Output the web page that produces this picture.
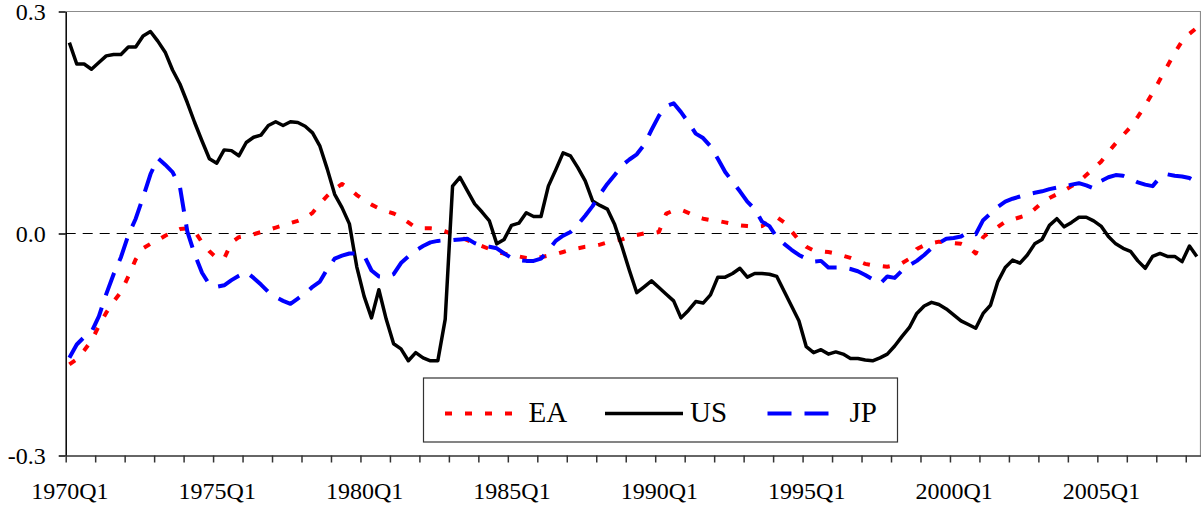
<!DOCTYPE html>
<html>
<head>
<meta charset="utf-8">
<script src="https://cdn.jsdelivr.net/npm/d3@7"></script>
<style>
  body { margin: 0; background: #fff; }
  svg { display: block; }
</style>
</head>
<body>
<div id="chart"></div>
<script>
// quarterly categories 1970Q1 .. 2008Q2
const quarters = [];
for (let y = 1970; y <= 2008; y++) {
  for (let q = 1; q <= 4; q++) {
    if (y === 2008 && q > 2) break;
    quarters.push(y + "Q" + q);
  }
}
const tickLabels = ["1970Q1", "1975Q1", "1980Q1", "1985Q1", "1990Q1", "1995Q1", "2000Q1", "2005Q1"];
const yTicks = [-0.3, 0.0, 0.3];

const seriesNames = ["EA", "US", "JP"];

const ea = [
  -0.177, -0.170, -0.158, -0.145, -0.125, -0.107, -0.092, -0.079, -0.058, -0.035,
  -0.020, -0.014, -0.009, -0.003, 0.002, 0.006, 0.007, 0.003, -0.012, -0.024,
  -0.033, -0.034, -0.012, -0.005, -0.003, -0.001, 0.002, 0.005, 0.008, 0.011,
  0.014, 0.017, 0.021, 0.028, 0.040, 0.051, 0.060, 0.067, 0.061, 0.052,
  0.045, 0.039, 0.034, 0.030, 0.027, 0.022, 0.015, 0.008, 0.007, 0.007,
  0.006, 0.003, -0.001, -0.005, -0.009, -0.013, -0.017, -0.021, -0.025, -0.027,
  -0.030, -0.031, -0.033, -0.034, -0.032, -0.030, -0.028, -0.025, -0.022, -0.020,
  -0.018, -0.017, -0.015, -0.012, -0.010, -0.008, -0.005, -0.002, 0.000, 0.000,
  0.002, 0.027, 0.031, 0.032, 0.028, 0.023, 0.020, 0.018, 0.017, 0.015,
  0.013, 0.011, 0.010, 0.009, 0.010, 0.016, 0.022, 0.015, 0.003, -0.009,
  -0.018, -0.023, -0.024, -0.025, -0.027, -0.030, -0.033, -0.037, -0.041, -0.043,
  -0.044, -0.045, -0.043, -0.040, -0.034, -0.021, -0.016, -0.013, -0.011, -0.012,
  -0.013, -0.014, -0.018, -0.027, -0.005, 0.003, 0.009, 0.016, 0.019, 0.022,
  0.025, 0.033, 0.042, 0.048, 0.053, 0.058, 0.064, 0.070, 0.079, 0.088,
  0.097, 0.110, 0.122, 0.133, 0.144, 0.158, 0.173, 0.190, 0.208, 0.226,
  0.244, 0.260, 0.270, 0.278
];

const us = [
  0.258, 0.229, 0.229, 0.222, 0.231, 0.240, 0.242, 0.242, 0.252, 0.252,
  0.267, 0.273, 0.260, 0.245, 0.221, 0.202, 0.177, 0.150, 0.125, 0.101,
  0.095, 0.113, 0.112, 0.105, 0.123, 0.130, 0.133, 0.146, 0.151, 0.146,
  0.151, 0.150, 0.145, 0.136, 0.118, 0.087, 0.053, 0.035, 0.013, -0.045,
  -0.085, -0.114, -0.076, -0.116, -0.149, -0.156, -0.172, -0.161, -0.168, -0.172,
  -0.172, -0.116, 0.064, 0.076, 0.058, 0.040, 0.029, 0.017, -0.014, -0.008,
  0.011, 0.014, 0.028, 0.023, 0.023, 0.064, 0.086, 0.109, 0.105, 0.089,
  0.071, 0.044, 0.038, 0.033, 0.012, -0.018, -0.050, -0.080, -0.072, -0.064,
  -0.073, -0.082, -0.091, -0.114, -0.104, -0.092, -0.094, -0.083, -0.059, -0.059,
  -0.054, -0.047, -0.059, -0.054, -0.054, -0.055, -0.058, -0.078, -0.098, -0.118,
  -0.153, -0.161, -0.157, -0.163, -0.160, -0.163, -0.169, -0.169, -0.171, -0.172,
  -0.168, -0.163, -0.152, -0.139, -0.127, -0.108, -0.098, -0.093, -0.096, -0.102,
  -0.110, -0.118, -0.123, -0.128, -0.108, -0.097, -0.065, -0.046, -0.036, -0.040,
  -0.029, -0.014, -0.008, 0.011, 0.020, 0.009, 0.015, 0.022, 0.022, 0.017,
  0.010, -0.004, -0.014, -0.020, -0.024, -0.037, -0.047, -0.031, -0.027, -0.031,
  -0.031, -0.038, -0.017, -0.031
];

const jp = [
  -0.168, -0.150, -0.140, -0.133, -0.112, -0.082, -0.055, -0.032, -0.002, 0.020,
  0.049, 0.080, 0.102, 0.093, 0.083, 0.063, 0.003, -0.028, -0.053, -0.069,
  -0.072, -0.070, -0.063, -0.057, -0.052, -0.060, -0.069, -0.079, -0.086, -0.091,
  -0.095, -0.088, -0.081, -0.072, -0.065, -0.048, -0.034, -0.030, -0.027, -0.027,
  -0.030, -0.050, -0.058, -0.059, -0.055, -0.040, -0.031, -0.023, -0.017, -0.012,
  -0.010, -0.009, -0.009, -0.008, -0.007, -0.013, -0.017, -0.018, -0.020, -0.027,
  -0.033, -0.036, -0.037, -0.037, -0.034, -0.023, -0.010, -0.003, 0.002, 0.012,
  0.024, 0.037, 0.053, 0.067, 0.079, 0.092, 0.100, 0.107, 0.120, 0.140,
  0.159, 0.172, 0.176, 0.164, 0.150, 0.135, 0.129, 0.118, 0.101, 0.083,
  0.070, 0.057, 0.043, 0.033, 0.016, 0.010, -0.005, -0.014, -0.022, -0.029,
  -0.034, -0.038, -0.037, -0.046, -0.046, -0.046, -0.048, -0.051, -0.056, -0.062,
  -0.068, -0.058, -0.060, -0.050, -0.043, -0.037, -0.029, -0.020, -0.013, -0.007,
  -0.006, -0.004, 0.002, -0.001, 0.018, 0.027, 0.036, 0.043, 0.047, 0.050,
  0.053, 0.055, 0.057, 0.060, 0.062, 0.063, 0.066, 0.068, 0.065, 0.061,
  0.071, 0.076, 0.079, 0.078, 0.074, 0.069, 0.066, 0.064, 0.076, 0.080,
  0.078, 0.077, 0.075, 0.069
];

const fontFamily = "'Liberation Serif', 'Times New Roman', Times, 'DejaVu Serif', serif";

const dimensions = {
  width: 1201,
  height: 506,
  left: 65.7,
  right: 1200.5,
  top: 11.5,
  bottom: 455.5,
};

const svg = d3
  .select("#chart")
  .append("svg")
  .attr("width", dimensions.width)
  .attr("height", dimensions.height);

// category index -> px (point sits in middle of its category)
const xScale = d3
  .scaleLinear()
  .domain([0, quarters.length])
  .range([dimensions.left, dimensions.right]);
const yScale = d3
  .scaleLinear()
  .domain([-0.3, 0.3])
  .range([dimensions.bottom, dimensions.top]);

// plot area border (top & right, grey)
svg
  .append("path")
  .attr(
    "d",
    `M${dimensions.left},${dimensions.top}H${dimensions.right}V${dimensions.bottom}`
  )
  .attr("fill", "none")
  .attr("stroke", "#8c8c8c")
  .attr("stroke-width", 1.2);

// zero line
svg
  .append("line")
  .attr("x1", dimensions.left)
  .attr("x2", dimensions.right)
  .attr("y1", yScale(0))
  .attr("y2", yScale(0))
  .attr("stroke", "#000")
  .attr("stroke-width", 1)
  .attr("stroke-dasharray", "10,7");

// series
const series = [
  { name: seriesNames[0], values: ea, color: "#ff0000", width: 4, dash: "7,13" },
  { name: seriesNames[1], values: us, color: "#000000", width: 3.5, dash: null },
  { name: seriesNames[2], values: jp, color: "#0000ff", width: 4, dash: "24,13" },
];

const line = d3
  .line()
  .x((d, i) => xScale(i + 0.5))
  .y((d) => yScale(d));

svg
  .append("g")
  .selectAll("path")
  .data(series)
  .join("path")
  .attr("d", (s) => line(s.values))
  .attr("fill", "none")
  .attr("stroke", (s) => s.color)
  .attr("stroke-width", (s) => s.width)
  .attr("stroke-dasharray", (s) => s.dash)
  .attr("stroke-linejoin", "round");

// y axis
const yAxis = d3
  .axisLeft(yScale)
  .tickValues(yTicks)
  .tickFormat((d) => d.toFixed(1))
  .tickSize(7)
  .tickSizeOuter(0)
  .tickPadding(13);
const yAxisGroup = svg
  .append("g")
  .attr("transform", `translate(${dimensions.left},0)`)
  .call(yAxis)
  .attr("font-family", fontFamily)
  .attr("font-size", 24);
yAxisGroup.selectAll("text").attr("fill", "#000").attr("dy", "0.34em");
yAxisGroup.selectAll("path, line").attr("stroke", "#000").attr("stroke-width", 1.5);

// x axis: tick marks on category boundaries every 4 quarters
const xTickAxis = d3
  .axisBottom(xScale)
  .tickValues(d3.range(0, quarters.length, 4))
  .tickFormat("")
  .tickSize(7)
  .tickSizeOuter(0);
const xAxisGroup = svg
  .append("g")
  .attr("transform", `translate(0,${dimensions.bottom})`)
  .call(xTickAxis);
xAxisGroup.selectAll("path, line").attr("stroke", "#333").attr("stroke-width", 1.5);

// x labels centred on their category
const xLabelAxis = d3
  .axisBottom(xScale)
  .tickValues(tickLabels.map((l) => quarters.indexOf(l) + 0.5))
  .tickFormat((d) => quarters[Math.floor(d)])
  .tickSize(0)
  .tickPadding(26);
const xLabelGroup = svg
  .append("g")
  .attr("transform", `translate(0,${dimensions.bottom})`)
  .call(xLabelAxis)
  .attr("font-family", fontFamily)
  .attr("font-size", 24);
xLabelGroup.select(".domain").remove();
xLabelGroup.selectAll("text").attr("fill", "#000");

// legend
const legend = svg.append("g").attr("transform", "translate(423.5,378)");
legend
  .append("rect")
  .attr("width", 474)
  .attr("height", 64)
  .attr("fill", "#fff")
  .attr("stroke", "#333")
  .attr("stroke-width", 1.2);

const legendItems = [
  { x: 21.5, len: 71, tx: 105 },
  { x: 181.5, len: 78, tx: 266.5 },
  { x: 344, len: 63, tx: 426 },
];

const item = legend
  .selectAll(".item")
  .data(series)
  .join("g")
  .attr("class", "item")
  .attr("transform", (d, i) => `translate(${legendItems[i].x},35.5)`);
item
  .append("line")
  .attr("x1", 0)
  .attr("x2", (d, i) => legendItems[i].len)
  .attr("stroke", (d) => d.color)
  .attr("stroke-width", (d) => d.width)
  .attr("stroke-dasharray", (d) => d.dash);
item
  .append("text")
  .attr("x", (d, i) => legendItems[i].tx - legendItems[i].x)
  .attr("y", 8.5)
  .attr("font-family", fontFamily)
  .attr("font-size", 29)
  .text((d) => d.name);
</script>
</body>
</html>
